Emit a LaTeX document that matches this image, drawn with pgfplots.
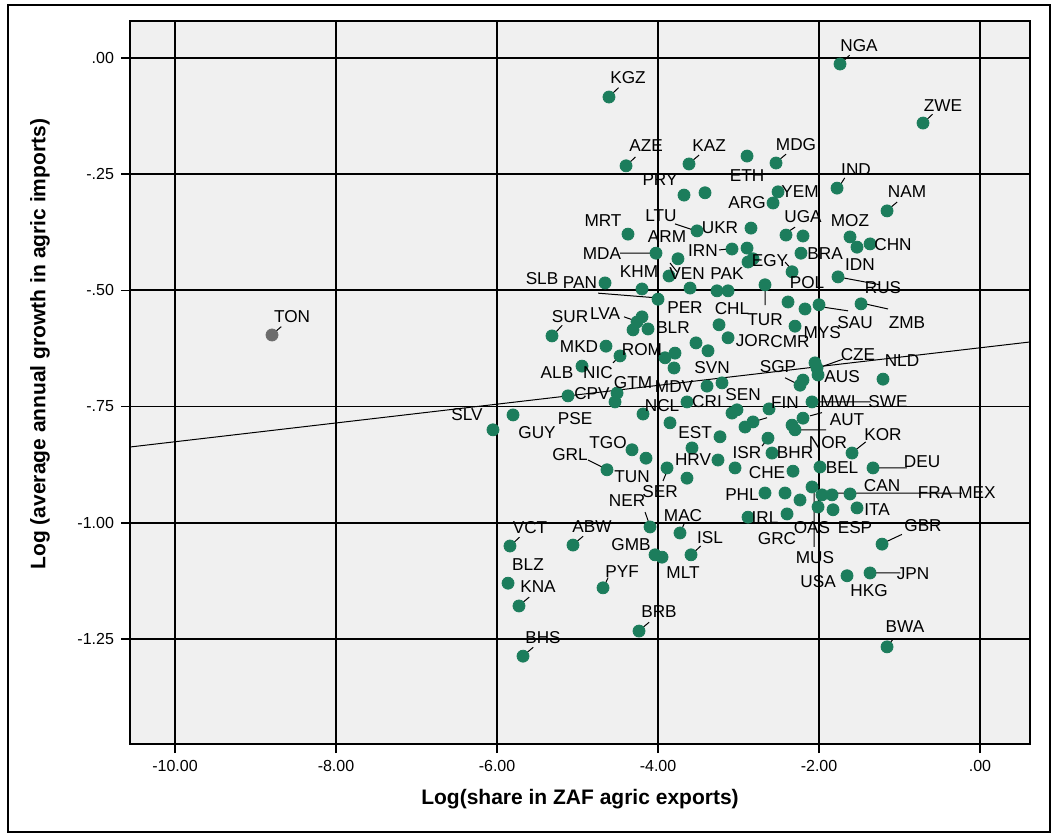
\documentclass[border=0pt]{standalone}
\usepackage{fontspec}
\setmainfont{Liberation Sans}
\usepackage{pgfplots}
\usepackage{pgfplotstable}
\pgfplotsset{compat=1.18}
\definecolor{dotgreen}{RGB}{28,125,92}
\definecolor{bggray}{RGB}{240,240,240}

\pgfplotstableread{
x y
-4.609 -0.084
-4.397 -0.232
-3.615 -0.228
-2.894 -0.211
-2.534 -0.226
-1.739 -0.013
-0.708 -0.140
-1.776 -0.280
-3.677 -0.295
-3.416 -0.290
-2.509 -0.288
-2.571 -0.312
-1.155 -0.329
-4.373 -0.379
-3.515 -0.372
-2.845 -0.366
-2.410 -0.381
-2.199 -0.383
-1.615 -0.385
-1.528 -0.407
-1.366 -0.400
-4.025 -0.420
-3.752 -0.432
-3.081 -0.411
-2.894 -0.409
-2.882 -0.439
-2.820 -0.432
-2.224 -0.420
-2.335 -0.460
-1.764 -0.471
-3.863 -0.469
-4.658 -0.484
-4.199 -0.497
-3.602 -0.495
-3.267 -0.501
-3.130 -0.501
-2.671 -0.488
-4.000 -0.519
-2.385 -0.525
-2.174 -0.540
-2.000 -0.531
-1.478 -0.529
-2.298 -0.577
-3.242 -0.574
-3.130 -0.602
-5.317 -0.598
-4.199 -0.557
-4.261 -0.568
-4.310 -0.585
-4.124 -0.583
-4.646 -0.620
-3.528 -0.613
-3.379 -0.630
-4.472 -0.641
-3.913 -0.645
-3.789 -0.635
-3.801 -0.667
-4.944 -0.663
-4.509 -0.721
-4.534 -0.740
-5.118 -0.727
-3.391 -0.706
-3.205 -0.699
-4.186 -0.766
-3.640 -0.740
-3.081 -0.764
-3.019 -0.757
-2.621 -0.755
-2.199 -0.693
-2.236 -0.704
-2.050 -0.656
-2.025 -0.667
-2.012 -0.682
-1.205 -0.691
-2.087 -0.740
-2.919 -0.794
-2.820 -0.783
-3.851 -0.785
-3.230 -0.815
-3.578 -0.839
-2.634 -0.818
-2.584 -0.850
-3.255 -0.865
-3.043 -0.882
-3.888 -0.882
-3.640 -0.904
-2.323 -0.889
-2.199 -0.775
-2.335 -0.790
-2.298 -0.800
-1.988 -0.880
-1.590 -0.850
-1.329 -0.882
-2.671 -0.936
-2.422 -0.936
-2.236 -0.951
-2.087 -0.923
-1.963 -0.940
-1.839 -0.940
-1.615 -0.938
-2.012 -0.966
-1.826 -0.972
-1.528 -0.968
-2.882 -0.988
-2.397 -0.981
-1.217 -1.046
-1.652 -1.114
-1.366 -1.108
-1.155 -1.267
-6.050 -0.800
-5.801 -0.768
-4.323 -0.843
-4.149 -0.861
-4.634 -0.886
-4.099 -1.009
-3.727 -1.022
-3.590 -1.069
-4.037 -1.069
-3.950 -1.074
-5.839 -1.050
-5.056 -1.048
-5.863 -1.130
-5.727 -1.179
-4.683 -1.140
-4.236 -1.233
-5.677 -1.287
}\pts

\pgfplotstableread{
x y lab
-4.373 -0.043 KGZ
-4.149 -0.189 AZE
-3.366 -0.189 KAZ
-2.286 -0.187 MDG
-1.503 0.026 NGA
-0.460 -0.103 ZWE
-1.540 -0.241 IND
-3.975 -0.262 PRY
-2.894 -0.254 ETH
-2.236 -0.288 YEM
-2.894 -0.312 ARG
-0.907 -0.288 NAM
-4.683 -0.349 MRT
-3.963 -0.340 LTU
-3.230 -0.366 UKR
-2.199 -0.342 UGA
-1.615 -0.349 MOZ
-1.081 -0.402 CHN
-4.696 -0.420 MDA
-3.888 -0.385 ARM
-3.441 -0.415 IRN
-1.925 -0.420 BRA
-2.609 -0.435 EGY
-1.491 -0.445 IDN
-2.149 -0.484 POL
-1.205 -0.495 RUS
-4.236 -0.460 KHM
-3.640 -0.463 VEN
-3.143 -0.463 PAK
-5.441 -0.475 SLB
-4.969 -0.484 PAN
-3.665 -0.536 PER
-3.081 -0.540 CHL
-2.671 -0.564 TUR
-1.553 -0.570 SAU
-0.907 -0.570 ZMB
-1.960 -0.590 MYS
-2.360 -0.611 CMR
-2.820 -0.607 JOR
-5.093 -0.557 SUR
-4.658 -0.549 LVA
-3.814 -0.581 BLR
-4.981 -0.622 MKD
-4.199 -0.628 ROM
-5.255 -0.676 ALB
-4.745 -0.676 NIC
-3.329 -0.667 SVN
-4.310 -0.699 GTM
-3.801 -0.708 MDV
-4.820 -0.723 CPV
-3.950 -0.747 NCL
-3.391 -0.740 CRI
-2.944 -0.725 SEN
-2.509 -0.665 SGP
-1.516 -0.639 CZE
-0.969 -0.650 NLD
-1.714 -0.686 AUS
-2.422 -0.742 FIN
-1.764 -0.740 MWI
-1.143 -0.740 SWE
-1.652 -0.779 AUT
-1.888 -0.828 NOR
-1.205 -0.811 KOR
-2.298 -0.850 BHR
-2.646 -0.891 CHE
-1.714 -0.882 BEL
-0.720 -0.869 DEU
-1.217 -0.919 CAN
-0.559 -0.936 FRA
-0.037 -0.936 MEX
-1.279 -0.972 ITA
-2.087 -1.011 OAS
-1.553 -1.011 ESP
-2.522 -1.033 GRC
-2.671 -0.988 IRL
-2.050 -1.074 MUS
-0.708 -1.005 GBR
-2.012 -1.127 USA
-0.832 -1.110 JPN
-1.379 -1.145 HKG
-0.932 -1.224 BWA
-8.546 -0.557 TON
-6.373 -0.768 SLV
-5.503 -0.807 GUY
-5.031 -0.775 PSE
-4.621 -0.828 TGO
-5.093 -0.854 GRL
-4.323 -0.901 TUN
-3.975 -0.932 SER
-4.385 -0.953 NER
-3.565 -0.865 HRV
-3.540 -0.805 EST
-2.894 -0.848 ISR
-2.957 -0.940 PHL
-3.689 -0.985 MAC
-3.354 -1.031 ISL
-4.335 -1.048 GMB
-3.689 -1.108 MLT
-5.590 -1.011 VCT
-4.820 -1.009 ABW
-5.615 -1.089 BLZ
-5.491 -1.138 KNA
-4.447 -1.104 PYF
-3.988 -1.192 BRB
-5.429 -1.246 BHS
}\labs

\begin{document}
\begin{tikzpicture}
\useasboundingbox (-65pt,-47.5pt) rectangle (464pt,372pt);
\draw[line width=1pt] (-61pt,-44pt) rectangle (460pt,369.5pt);
\begin{axis}[
  at={(0pt,0pt)}, anchor=south west,
  scale only axis, width=450pt, height=361.5pt,
  xmin=-10.559, xmax=0.621, ymin=-1.476, ymax=0.0796,
  axis background/.style={fill=bggray},
  xtick={-10,-8,-6,-4,-2,0},
  xticklabels={-10.00,-8.00,-6.00,-4.00,-2.00,.00},
  ytick={-1.25,-1,-0.75,-0.5,-0.25,0},
  yticklabels={-1.25,-1.00,-.75,-.50,-.25,.00},
  grid=major, major grid style={black, line width=0.9pt},
  tick align=outside, tick pos=left, major tick length=4.5pt,
  tick style={black, line width=0.8pt},
  axis line style={line width=1.1pt},
  tick label style={font=\fontsize{8}{9}\selectfont},
  xlabel={Log(share in ZAF agric exports)},
  ylabel={Log (average annual growth in agric imports)},
  label style={font=\fontsize{10.5}{12}\selectfont\bfseries},
  x label style={at={(axis description cs:0.5,-0.076)}, anchor=center},
  y label style={at={(axis description cs:-0.1,0.553)}, anchor=center},
  clip=false,
]
% regression line
\addplot[black, line width=0.5pt] coordinates {(-10.559,-0.837) (0.621,-0.611)};
% leader lines
\addplot[black, line width=0.5pt, unbounded coords=jump] coordinates {
(-4.57,-0.077) (-4.49,-0.064) (nan,nan)
(-4.36,-0.226) (-4.28,-0.213) (nan,nan)
(-3.58,-0.222) (-3.49,-0.209) (nan,nan)
(-2.50,-0.220) (-2.41,-0.207) (nan,nan)
(-1.70,-0.007) (-1.62,0.006) (nan,nan)
(-0.67,-0.134) (-0.59,-0.121) (nan,nan)
(-1.74,-0.274) (-1.68,-0.258) (nan,nan)
(-1.12,-0.323) (-1.03,-0.310) (nan,nan)
(-5.28,-0.592) (-5.19,-0.575) (nan,nan)
(-8.76,-0.590) (-8.68,-0.578) (nan,nan)
(-4.20,-1.227) (-4.11,-1.214) (nan,nan)
(-5.64,-1.281) (-5.55,-1.268) (nan,nan)
(-1.13,-1.262) (-1.08,-1.250) (nan,nan)
(-5.69,-1.173) (-5.60,-1.160) (nan,nan)
(-4.66,-1.133) (-4.62,-1.118) (nan,nan)
(-5.02,-1.042) (-4.93,-1.029) (nan,nan)
(-5.80,-1.044) (-5.72,-1.031) (nan,nan)
(-3.55,-1.063) (-3.47,-1.050) (nan,nan)
(-3.71,-1.016) (-3.67,-1.000) (nan,nan)
(-1.55,-0.844) (-1.42,-0.826) (nan,nan)
(-1.18,-1.042) (-0.97,-1.025) (nan,nan)
(-1.33,-1.108) (-0.99,-1.108) (nan,nan)
(-1.29,-0.882) (-0.91,-0.882) (nan,nan)
(-1.950,-0.936) (-0.224,-0.936) (nan,nan)
(-2.062,-0.936) (-2.062,-1.052) (nan,nan)
(-2.671,-0.494) (-2.671,-0.532) (nan,nan)
(-1.764,-0.471) (-1.242,-0.488) (nan,nan)
(-1.429,-0.529) (-1.143,-0.540) (nan,nan)
(-1.950,-0.536) (-1.640,-0.544) (nan,nan)
(-4.745,-0.506) (-4.025,-0.516) (nan,nan)
(-4.472,-0.420) (-4.075,-0.420) (nan,nan)
(-3.242,-0.413) (-3.130,-0.411) (nan,nan)
(-3.851,-0.441) (-3.764,-0.460) (nan,nan)
(-3.789,-0.357) (-3.565,-0.370) (nan,nan)
(-2.385,-0.374) (-2.298,-0.364) (nan,nan)
(-2.422,-0.439) (-2.335,-0.456) (nan,nan)
(-4.422,-0.557) (-4.273,-0.566) (nan,nan)
(-4.559,-0.656) (-4.497,-0.645) (nan,nan)
(-4.870,-0.865) (-4.671,-0.882) (nan,nan)
(-4.161,-0.977) (-4.112,-1.001) (nan,nan)
(-3.938,-0.910) (-3.888,-0.889) (nan,nan)
(-2.708,-0.835) (-2.658,-0.824) (nan,nan)
(-2.112,-0.770) (-1.963,-0.763) (nan,nan)
(-2.236,-0.800) (-1.913,-0.800) (nan,nan)
(-2.012,-0.667) (-1.702,-0.648) (nan,nan)
(-2.422,-0.688) (-2.236,-0.704) (nan,nan)
(-2.646,-0.774) (-2.820,-0.783) (nan,nan)
(-2.050,-0.740) (-1.360,-0.740) (nan,nan)
};
% points
\addplot[only marks, mark=*, mark size=3pt, mark options={fill=dotgreen, draw=dotgreen}] table[x=x,y=y] {\pts};
\addplot[only marks, mark=*, mark size=3pt, mark options={fill=gray!85!black, draw=gray!85!black}] coordinates {(-8.795,-0.596)};
% labels
\addplot[draw=none, mark=none, nodes near coords, point meta=explicit symbolic,
  every node near coord/.append style={anchor=center, inner sep=0pt, font=\fontsize{8.6}{9}\selectfont}]
  table[x=x,y=y,meta=lab] {\labs};
\end{axis}
\end{tikzpicture}
\end{document}
